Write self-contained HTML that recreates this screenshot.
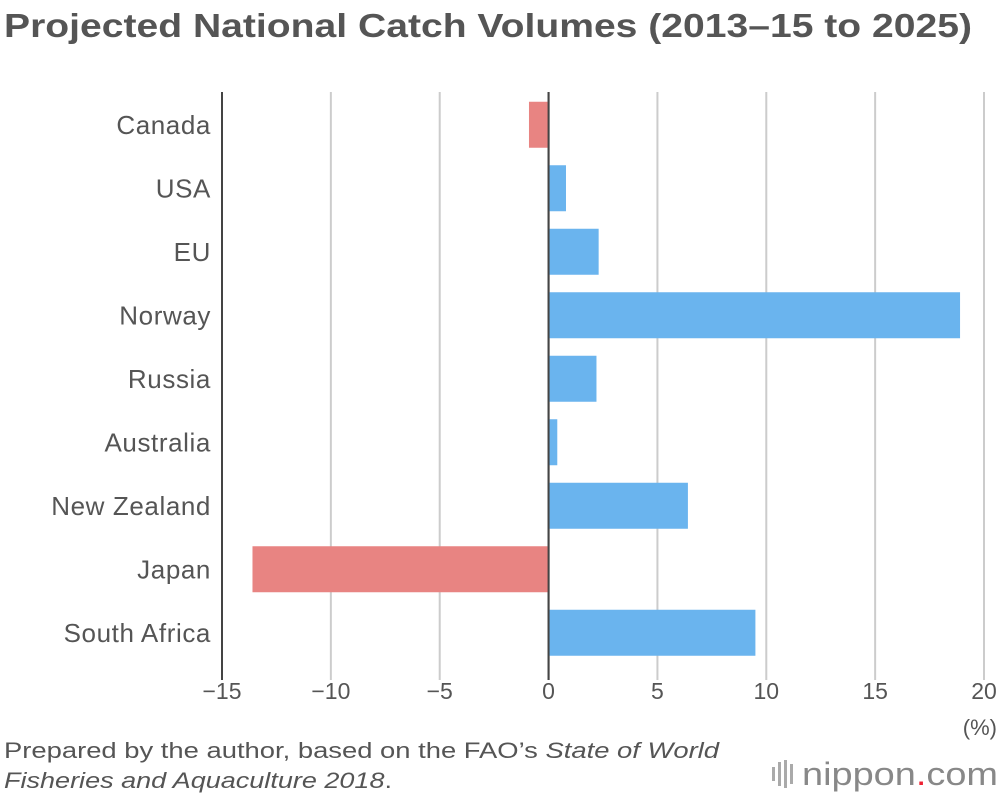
<!DOCTYPE html>
<html><head><meta charset="utf-8">
<style>
body{margin:0;background:#fff;width:1000px;height:796px;overflow:hidden;font-family:"Liberation Sans",sans-serif;color:#555}
</style></head>
<body>
<svg width="1000" height="796" id="c">
<text x="4" y="37" font-size="33" font-weight="bold" fill="#555" textLength="968" lengthAdjust="spacingAndGlyphs">Projected National Catch Volumes (2013–15 to 2025)</text>
<g id="grid"></g>
<g id="bars"></g>
<g id="labels"></g>
<text x="997" y="735" font-size="22" fill="#555" text-anchor="end">(%)</text>
<text x="4" y="758" font-size="22" fill="#555" textLength="715" lengthAdjust="spacingAndGlyphs">Prepared by the author, based on the FAO’s <tspan font-style="italic">State of World</tspan></text>
<text x="4" y="788" font-size="22" fill="#555" textLength="388" lengthAdjust="spacingAndGlyphs"><tspan font-style="italic">Fisheries and Aquaculture 2018</tspan>.</text>
<g>
<g fill="#aaa"><rect x="772" y="767" width="3" height="14"/><rect x="778" y="762" width="3" height="24"/><rect x="784" y="760" width="3" height="28"/><rect x="790" y="764" width="3" height="20"/></g>
<text x="802" y="785" font-size="32" fill="#888" textLength="196" lengthAdjust="spacingAndGlyphs">nippon<tspan fill="#e23">.</tspan>com</text>
</g>
</svg>
<script>
const categories=["Canada","USA","EU","Norway","Russia","Australia","New Zealand","Japan","South Africa"];
const values=[-0.9,0.8,2.3,18.9,2.2,0.4,6.4,-13.6,9.5];
const ticks=[-15,-10,-5,0,5,10,15,20];
const tickLabels=["−15","−10","−5","0","5","10","15","20"];
const NS="http://www.w3.org/2000/svg";
const x0=222,x1=984,vmin=-15,vmax=20,plotTop=92,rowH=63.5,barH=46;
const xs=v=>x0+(v-vmin)/(vmax-vmin)*(x1-x0);
function mk(t,a,p){const e=document.createElementNS(NS,t);for(const k in a)e.setAttribute(k,a[k]);document.getElementById(p).appendChild(e);return e;}
ticks.forEach((t,i)=>{
 const dark=(t===vmin||t===0);
 const l=mk("line",{x1:xs(t),x2:xs(t),y1:plotTop,y2:680,stroke:dark?"#444":"#ccc","stroke-width":2},"grid");
 
 
 const tx=mk("text",{x:xs(t),y:699,"font-size":23,"text-anchor":"middle",fill:"#555"},"labels");
 tx.textContent=tickLabels[i];
 
 
});
categories.forEach((c,i)=>{
 const cy=plotTop+rowH*i+rowH/2+1;
 const v=values[i];
 const a=xs(Math.min(0,v)),b=xs(Math.max(0,v));
 const r=mk("rect",{x:a,y:cy-barH/2,width:b-a,height:barH,fill:v<0?"#e88482":"#6ab4ee"},"bars");
 
 
 const t=mk("text",{x:211,y:cy+9,"font-size":26,"letter-spacing":"0.6","text-anchor":"end",fill:"#555"},"labels");
 t.textContent=c;
 
 
});
const z=mk("line",{x1:xs(0),x2:xs(0),y1:plotTop,y2:680,stroke:"#444","stroke-width":2},"labels");


</script>
</body></html>
